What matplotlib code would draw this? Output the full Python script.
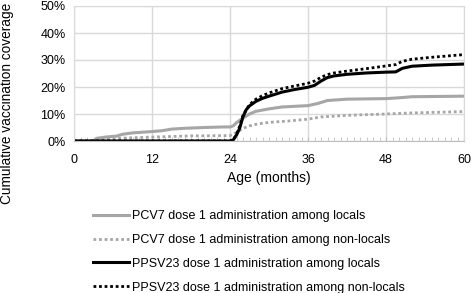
import matplotlib.pyplot as plt
from matplotlib.ticker import MultipleLocator, PercentFormatter

plt.rcParams['font.family'] = ['Liberation Sans', 'DejaVu Sans']

# ages (months) and cumulative coverage (%)
pcv_loc_x = [0, 3, 3.5, 5, 6.5, 7.5, 9, 12, 13.5, 15, 17, 20, 23, 24, 24.5, 25, 26, 27, 28,
             30, 32, 36, 37.5, 39, 42, 48, 50, 52, 60]
pcv_loc_y = [0, 0, 1.0, 1.5, 1.8, 2.5, 3.0, 3.5, 3.8, 4.4, 4.7, 5.0, 5.2, 5.2, 5.6, 6.8, 8.5,
             10.0, 11.0, 11.9, 12.6, 13.1, 13.9, 15.0, 15.5, 15.7, 16.0, 16.4, 16.6]

pcv_non_x = [0, 3, 4, 7, 10, 14, 18, 24, 25, 26, 27, 28, 30, 33, 36, 38, 42, 48, 52, 60]
pcv_non_y = [0, 0, 0.7, 1.0, 1.3, 1.6, 1.9, 2.0, 3.1, 4.7, 5.6, 6.2, 6.9, 7.4, 8.1, 8.9, 9.5,
             10.0, 10.4, 10.9]

ppv_loc_x = [0, 24, 24.5, 25, 25.5, 26, 26.5, 27, 28, 29, 30, 32, 34, 36, 37, 38, 39, 40, 42,
             45, 48, 49.5, 50.5, 52, 55, 60]
ppv_loc_y = [0, 0, 0.4, 2.2, 4.8, 9.0, 11.6, 13.0, 14.7, 15.8, 16.6, 18.1, 19.1, 19.9, 20.6,
             22.2, 23.5, 24.1, 24.7, 25.2, 25.5, 25.6, 26.9, 27.7, 28.1, 28.5]

ppv_non_x = [0, 24, 24.5, 25, 25.5, 26, 27, 28, 29, 30, 32, 34, 36, 37, 38, 39, 40, 42, 45, 48,
             49.5, 50.5, 52, 55, 60]
ppv_non_y = [0, 0, 0.4, 2.5, 5.5, 9.5, 13.5, 15.5, 16.8, 17.8, 19.4, 20.4, 21.4, 22.2, 23.6,
             24.6, 25.2, 25.9, 26.8, 27.8, 28.3, 29.5, 30.3, 31.0, 32.0]

labels = ['PCV7 dose 1 administration among locals',
          'PCV7 dose 1 administration among non-locals',
          'PPSV23 dose 1 administration among locals',
          'PPSV23 dose 1 administration among non-locals']

fig = plt.figure(figsize=(4.71, 2.93), dpi=100)
ax = fig.add_axes([74 / 471, 1 - 141 / 293, 390 / 471, 135 / 293])

ax.plot(pcv_loc_x, pcv_loc_y, color='#a6a6a6', lw=2.2, label=labels[0])
ax.plot(pcv_non_x, pcv_non_y, color='#a6a6a6', lw=2.0, ls=(0, (1, 1)), label=labels[1])
ax.plot(ppv_loc_x, ppv_loc_y, color='black', lw=2.2, label=labels[2])
ax.plot(ppv_non_x, ppv_non_y, color='black', lw=2.0, ls=(0, (1, 1)), label=labels[3])

ax.set_xlim(0, 60)
ax.set_ylim(0, 50)
ax.xaxis.set_major_locator(MultipleLocator(12))
ax.xaxis.set_minor_locator(MultipleLocator(1))
ax.yaxis.set_major_locator(MultipleLocator(10))
ax.yaxis.set_major_formatter(PercentFormatter(decimals=0))
ax.grid(True, color='#d9d9d9', lw=1)
ax.set_axisbelow(True)
for s in ax.spines.values():
    s.set_color('#d9d9d9')
ax.spines['bottom'].set_color('#bfbfbf')
ax.tick_params(axis='x', which='both', direction='in', length=3, color='#bfbfbf',
               labelsize=9, pad=9)
ax.tick_params(axis='y', length=0, labelsize=9, pad=6)

ax.set_xlabel('Age (months)', fontsize=10, labelpad=4)
fig.text(7 / 471, 1 - 103 / 293, 'Cumulative vaccination coverage', rotation=90,
         ha='center', va='center', fontsize=9.8)

fig.legend(loc='upper left', bbox_to_anchor=(88 / 471, 1 - 205 / 293), frameon=False,
           fontsize=9, handlelength=2.9, handletextpad=0.2, labelspacing=0.95,
           borderaxespad=0)

fig.savefig('out.png', dpi=100)
